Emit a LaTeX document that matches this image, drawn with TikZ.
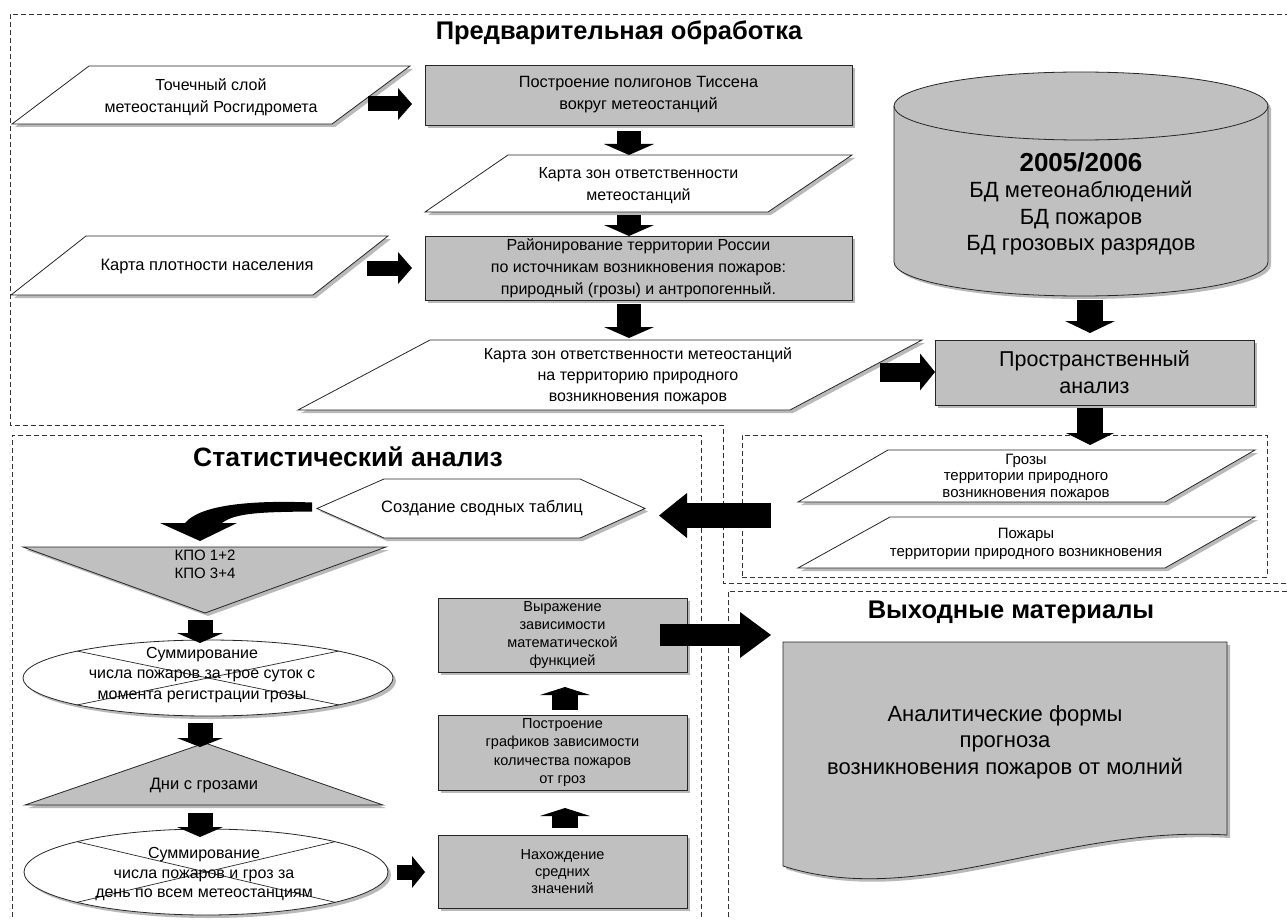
\documentclass[tikz,border=0pt]{standalone}
\usepackage{fontspec}
\setmainfont{Liberation Sans}
\usetikzlibrary{arrows.meta,shadows,shapes.geometric}
\definecolor{gbox}{HTML}{C0C0C0}
\newcommand{\fsz}[2]{\fontsize{#1}{#2}\selectfont}
\tikzset{
 frame/.style={draw=black!80, line width=0.9pt, dash pattern=on 5pt off 3pt},
 shad/.style={drop shadow={shadow xshift=3pt,shadow yshift=-3pt,fill=black!50,opacity=0.55}},
 gshape/.style={draw=black!85, line width=0.8pt, fill=gbox, shad},
 wshape/.style={draw=black!85, line width=0.8pt, fill=white, shad},
 lbl/.style={align=center, inner sep=0pt, text=black},
 hdr/.style={font=\bfseries\fsz{25.5}{29}, inner sep=0pt},
 rbox/.style={gshape, rectangle, inner sep=0pt, align=center},
 fat/.style n args={3}{draw=black, line width=#1, -{Triangle[length=#3,width=#2,line width=0pt]}},
}
\begin{document}
\begin{tikzpicture}[x=1pt,y=-1pt]
\useasboundingbox (0,0) rectangle (1287,920);
\fill[white] (0,0) rectangle (1287,920);

% frames
\draw[frame] (1290,14) -- (10,14) -- (10,425) -- (723,425) -- (723,583) -- (1290,583);
\draw[frame] (12,925) -- (12,435) -- (701,435) -- (701,925);
\draw[frame] (728,925) -- (728,591) -- (1290,591);
\node[frame, rectangle, minimum width=525pt, minimum height=142pt, inner sep=0pt] (ib) at (1004.5,506) {};

% headers
\node[hdr] (t1) at (619,33) {Предварительная обработка};
\node[hdr, font=\bfseries\fsz{26.5}{29}] (t2) at (348,457) {Статистический анализ};
\node[hdr] (t3) at (1011,612) {Выходные материалы};

% --- top section ---
\path[wshape] (89,66) -- (410,66) -- (332,124) -- (12,124) -- cycle;
\node[lbl, font=\fsz{16}{22}] (p1) at (211,97) {Точечный слой\\метеостанций Росгидромета};

\node[rbox, minimum width=427pt, minimum height=60pt, font=\fsz{16.3}{22}] (r1) at (638.5,95) {Построение полигонов Тиссена\\вокруг метеостанций};

\path[wshape] (508,155) -- (852,155) -- (768,212) -- (425,212) -- cycle;
\node[lbl, font=\fsz{16}{22}] (p2) at (638.5,186) {Карта зон ответственности\\метеостанций};

\path[wshape] (86,236) -- (388,236) -- (313,295) -- (11,295) -- cycle;
\node[lbl, font=\fsz{16.5}{22}] (p3) at (207,267) {Карта плотности населения};

\node[rbox, minimum width=427pt, minimum height=64pt, font=\fsz{16}{22}] (r2) at (638.5,268) {Районирование территории России\\по источникам возникновения пожаров:\\природный (грозы) и антропогенный.};

\path[wshape] (430,340) -- (922,340) -- (790,410) -- (298,410) -- cycle;
\node[lbl, font=\fsz{16}{21}] (p4) at (638,376) {Карта зон ответственности метеостанций\\на территорию природного\\возникновения пожаров};

% cylinder
\path[gshape] (894,106) -- (894,262) .. controls (894,280.8) and (977.7,296) .. (1081,296) .. controls (1184.3,296) and (1268,280.8) .. (1268,262) -- (1268,106) .. controls (1268,87.2) and (1184.3,72) .. (1081,72) .. controls (977.7,72) and (894,87.2) .. (894,106) -- cycle;
\draw[black!85, line width=0.8pt] (894,106) .. controls (894,124.8) and (977.7,140) .. (1081,140) .. controls (1184.3,140) and (1268,124.8) .. (1268,106);
\node[lbl, font=\fsz{22}{26.5}] (cyl) at (1081,204) {{\bfseries\fsz{26}{28}2005/2006}\\БД метеонаблюдений\\БД пожаров\\БД грозовых разрядов};

\node[rbox, minimum width=319pt, minimum height=65pt, font=\fsz{21.5}{27}] (r3) at (1094.5,372.5) {Пространственный\\анализ};

\path[wshape] (888,450) -- (1255,450) -- (1165,502) -- (798,502) -- cycle;
\node[lbl, font=\fsz{15}{16.5}] (p5) at (1026,477) {Грозы\\территории природного\\возникновения пожаров};

\path[wshape] (890,517) -- (1255,517) -- (1165,568) -- (798,568) -- cycle;
\node[lbl, font=\fsz{15}{18}] (p6) at (1026,544) {Пожары\\территории природного возникновения};

% --- statistics section ---
\path[wshape] (317,508.5) -- (384,479) -- (580,479) -- (645,508.5) -- (580,538) -- (384,538) -- cycle;
\node[lbl, font=\fsz{16.5}{20}] (hex) at (482,508.5) {Создание сводных таблиц};

\path[gshape] (23,547) -- (386,547) -- (205,613) -- cycle;
\node[lbl, font=\fsz{15}{18}] (tri1) at (205,564) {КПО 1+2\\КПО 3+4};

\node[wshape, ellipse, minimum width=370pt, minimum height=76pt, inner sep=0pt] (e1) at (208,678) {};
\draw[black!85, line width=0.7pt] ([shift={(-131,-27)}]e1.center) -- ([shift={(131,27)}]e1.center);
\draw[black!85, line width=0.7pt] ([shift={(131,-27)}]e1.center) -- ([shift={(-131,27)}]e1.center);
\node[lbl, font=\fsz{16}{20.5}] (e1t) at (202,675) {Суммирование\\числа пожаров за трое суток с\\момента регистрации грозы};

\path[gshape] (205,743) -- (383,805) -- (25,805) -- cycle;
\node[lbl, font=\fsz{16.5}{20}] (tri2) at (204,786) {Дни с грозами};

\node[wshape, ellipse, minimum width=364pt, minimum height=86pt, inner sep=0pt] (e2) at (206,872) {};
\draw[black!85, line width=0.7pt] ([shift={(-129,-30.3)}]e2.center) -- ([shift={(129,30.3)}]e2.center);
\draw[black!85, line width=0.7pt] ([shift={(129,-30.3)}]e2.center) -- ([shift={(-129,30.3)}]e2.center);
\node[lbl, font=\fsz{16}{19.5}] (e2t) at (204,874) {Суммирование\\числа пожаров и гроз за\\день по всем метеостанциям};

\node[rbox, minimum width=249pt, minimum height=74pt, font=\fsz{14.5}{18}] (r4) at (562.5,635) {Выражение\\зависимости\\математической\\функцией};
\node[rbox, minimum width=249pt, minimum height=75pt, font=\fsz{14.5}{18.5}] (r5) at (562.5,752.5) {Построение\\графиков зависимости\\количества пожаров\\от гроз};
\node[rbox, minimum width=249pt, minimum height=73pt, font=\fsz{14.5}{17}] (r6) at (562.5,871.5) {Нахождение\\средних\\значений};

% --- output section ---
\path[gshape] (783,642) -- (1227,642) -- (1227,835) .. controls (1060,825) and (920,910) .. (783,866) -- cycle;
\node[lbl, font=\fsz{22}{26.5}] (doc) at (1005,742) {Аналитические формы\\прогноза\\возникновения пожаров от молний};

% --- block arrows ---
\draw[fat={15pt}{32pt}{14pt}] ([shift={(157,7)}]p1.center) -- ([shift={(-226.5,9)}]r1.center);
\draw[fat={15pt}{32pt}{14pt}] ([shift={(160,1)}]p3.center) -- ([shift={(-226.5,0)}]r2.center);
\draw[fat={24pt}{50pt}{11pt}] ([shift={(-9.5,36)}]r1.center) -- ([shift={(-9.5,-31)}]p2.center);
\draw[fat={24pt}{50pt}{11pt}] ([shift={(-9.5,29)}]p2.center) -- ([shift={(-9.5,-32)}]r2.center);
\draw[fat={24pt}{50pt}{11pt}] ([shift={(-9.5,36)}]r2.center) -- ([shift={(-9,-38)}]p4.center);
\draw[fat={19pt}{37pt}{15pt}] ([shift={(242,-4)}]p4.center) -- ([shift={(-159.5,-0.5)}]r3.center);
\draw[fat={26pt}{50pt}{12pt}] ([shift={(9,96)}]cyl.center) -- ([shift={(-4.5,-39.5)}]r3.center);
\draw[fat={26pt}{48pt}{12pt}] ([shift={(-4.5,35.5)}]r3.center) -- ([shift={(85.5,-61)}]ib.center);
\draw[fat={25pt}{45pt}{28pt}] ([shift={(-233.5,9.5)}]ib.center) -- ([shift={(177,7)}]hex.center);
\fill[black] ([shift={(-170,-6)}]hex.center) .. controls (250,500) and (200,505) .. (185,523) -- (160,523) -- (200,541) -- (237,523) -- (222,523) .. controls (235,513) and (260,512) .. ([shift={(-170,3)}]hex.center) -- cycle;
\draw[fat={25pt}{46pt}{10pt}] ([shift={(-5,56)}]tri1.center) -- ([shift={(-8,-35)}]e1.center);
\draw[fat={25pt}{46pt}{9pt}] ([shift={(-8,45)}]e1.center) -- ([shift={(-4,-39)}]tri2.center);
\draw[fat={25pt}{46pt}{10pt}] ([shift={(-4,27)}]tri2.center) -- ([shift={(-6,-35)}]e2.center);
\draw[fat={15pt}{32pt}{13pt}] ([shift={(191,0)}]e2.center) -- ([shift={(-137.5,0.5)}]r6.center);
\draw[fat={26pt}{50pt}{8pt}] ([shift={(2.5,-43.5)}]r6.center) -- ([shift={(2.5,55.5)}]r5.center);
\draw[fat={26pt}{50pt}{8pt}] ([shift={(2.5,-42.5)}]r5.center) -- ([shift={(2.5,52)}]r4.center);
\draw[fat={22pt}{46pt}{31pt}] ([shift={(97.5,0)}]r4.center) -- ([shift={(-234,-107)}]doc.center);
\end{tikzpicture}
\end{document}
